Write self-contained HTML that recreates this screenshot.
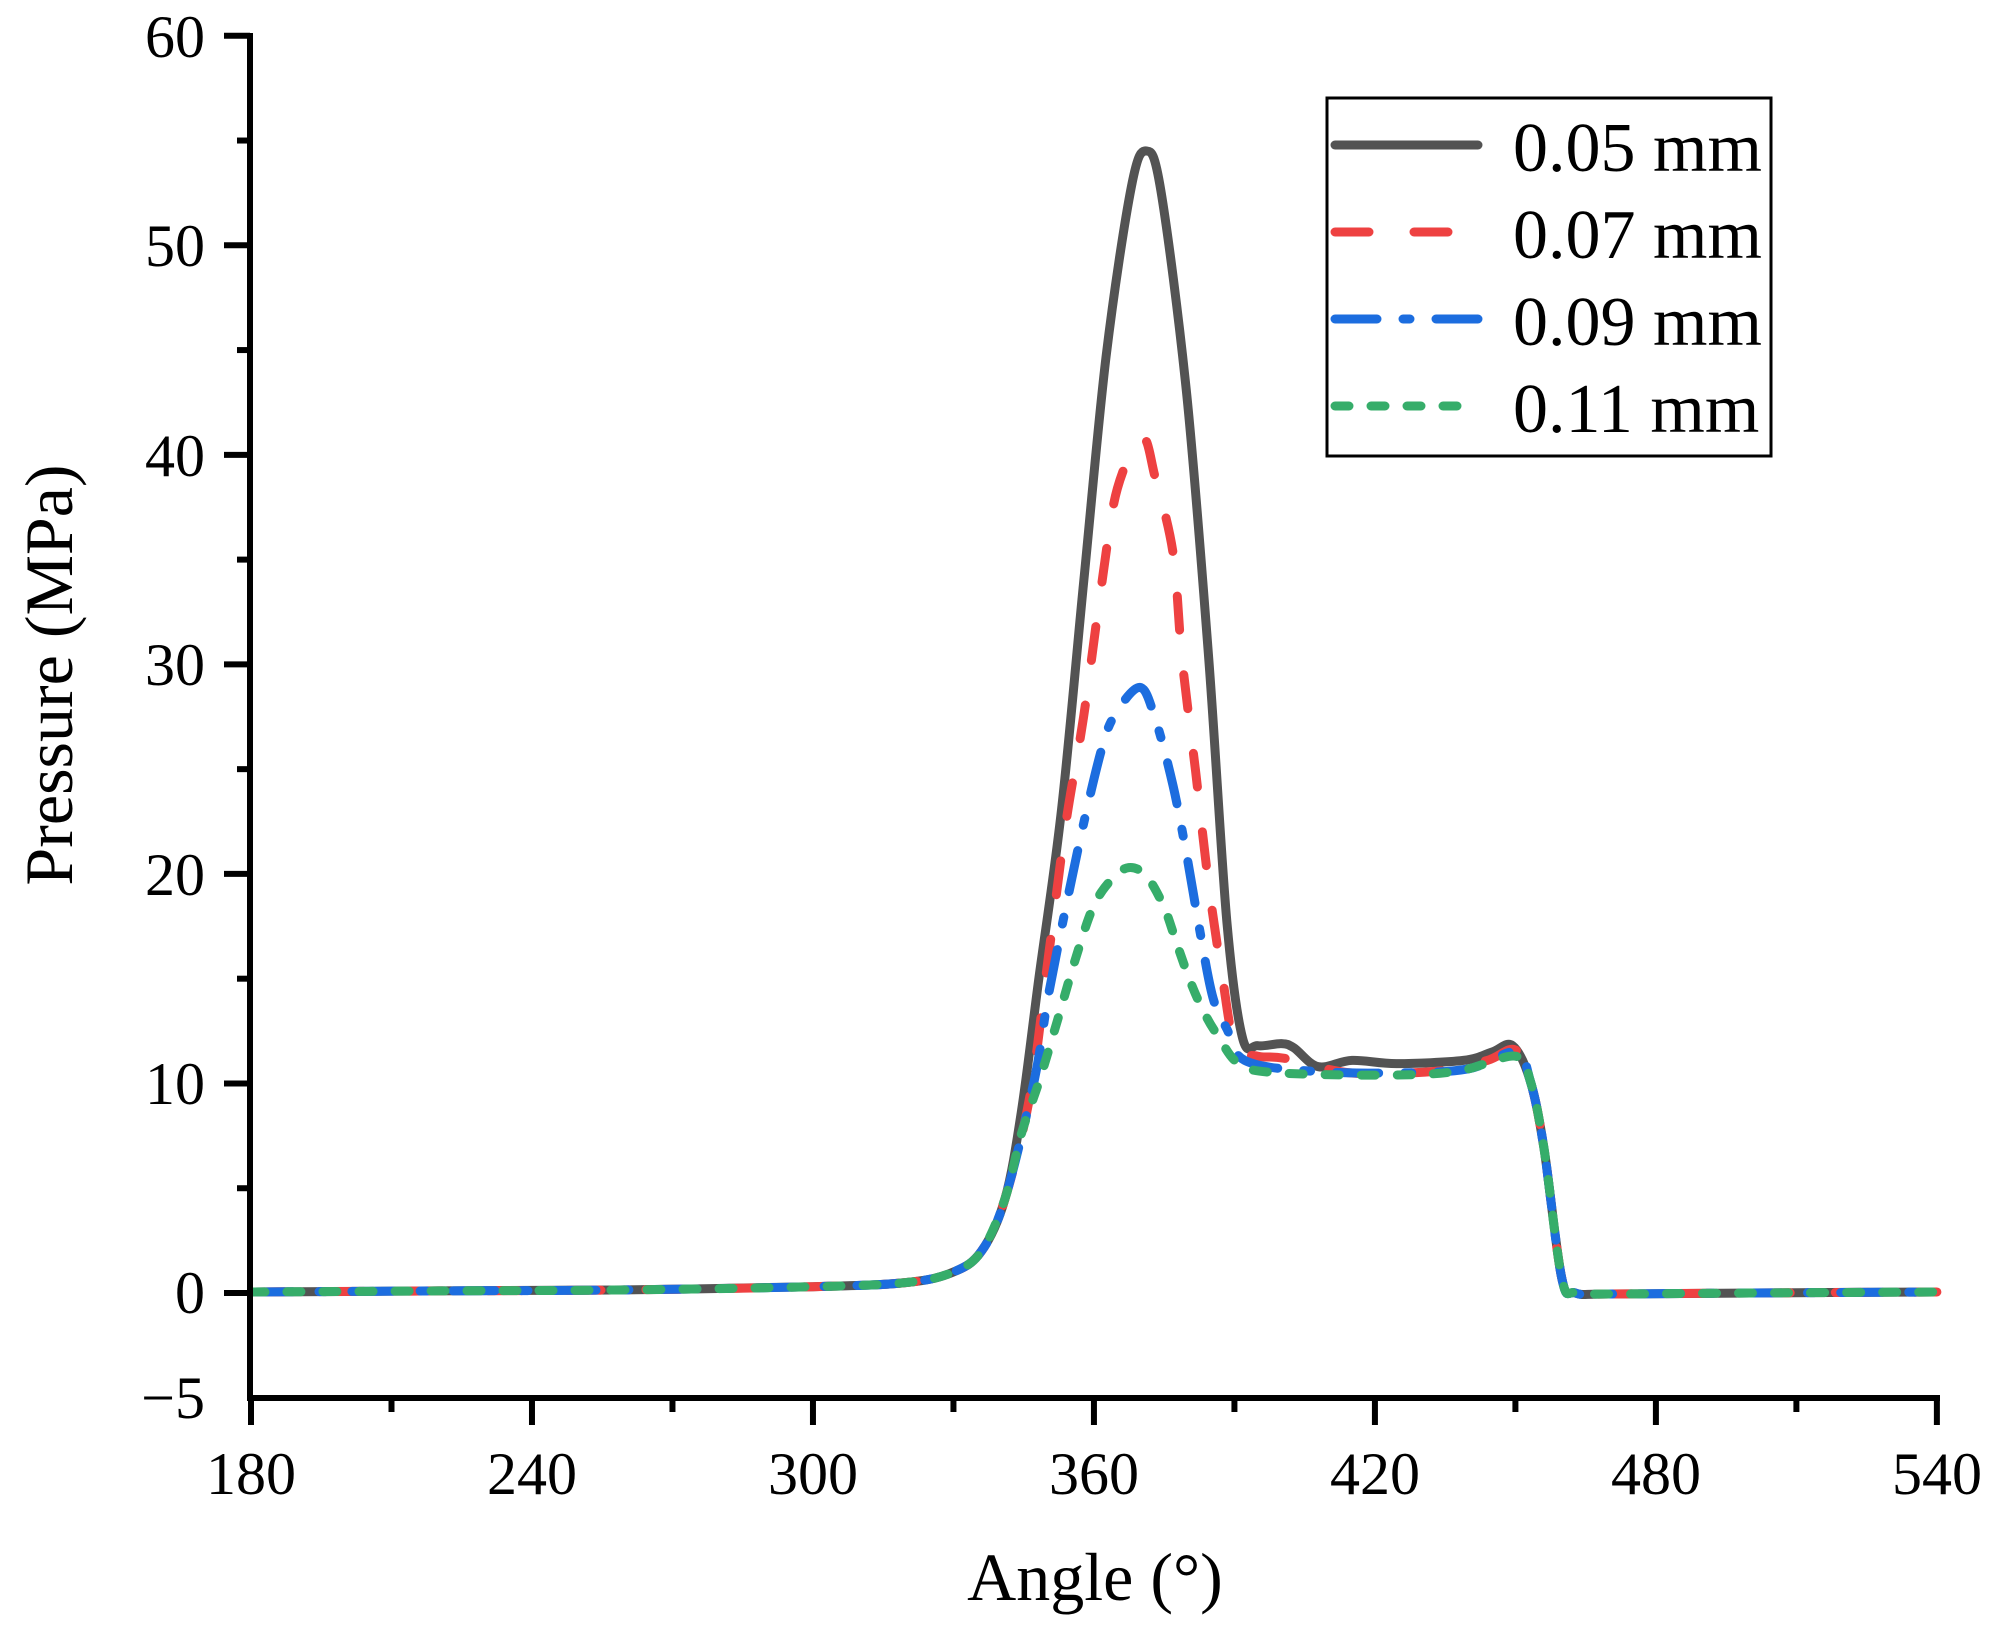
<!DOCTYPE html>
<html><head><meta charset="utf-8"><style>
html,body{margin:0;padding:0;background:#fff;}
svg{display:block;}
text{font-family:"Liberation Serif",serif;fill:#000;}
</style></head><body>
<svg id="s" width="1997" height="1634" viewBox="0 0 1997 1634" xmlns="http://www.w3.org/2000/svg">
<rect width="1997" height="1634" fill="#fff"/>
<g id="curves" fill="none" stroke-linejoin="round"></g>
<g stroke="#000" stroke-width="6" fill="none">
<line x1="250" y1="33" x2="250" y2="1401"/>
<line x1="247" y1="1398" x2="1940" y2="1398"/>
</g>
<g id="ticks" stroke="#000" stroke-width="6"></g>
<g font-size="60" text-anchor="end">
<text x="205" y="1418">−5</text>
<text x="205" y="1313">0</text>
<text x="205" y="1104">10</text>
<text x="205" y="895">20</text>
<text x="205" y="685">30</text>
<text x="205" y="476">40</text>
<text x="205" y="266">50</text>
<text x="205" y="57">60</text>
</g>
<g font-size="60" text-anchor="middle">
<text x="251" y="1494">180</text>
<text x="532" y="1494">240</text>
<text x="813" y="1494">300</text>
<text x="1094" y="1494">360</text>
<text x="1375" y="1494">420</text>
<text x="1656" y="1494">480</text>
<text x="1937" y="1494">540</text>
</g>
<text x="1095" y="1600" font-size="68" text-anchor="middle">Angle (°)</text>
<text transform="translate(72,675) rotate(-90)" font-size="68" text-anchor="middle">Pressure (MPa)</text>
<rect x="1327" y="98" width="444" height="358" fill="#fff" stroke="#000" stroke-width="3"/>
<g stroke-width="9" stroke-linecap="round" fill="none">
<line x1="1335" y1="145" x2="1478" y2="145" stroke="#535353"/>
<line x1="1335" y1="232" x2="1478" y2="232" stroke="#ee4141" stroke-dasharray="34 45"/>
<line x1="1335" y1="319" x2="1478" y2="319" stroke="#1c6ddf" stroke-dasharray="42 26 7 26"/>
<line x1="1335" y1="406" x2="1478" y2="406" stroke="#36ad6a" stroke-dasharray="14 22"/>
</g>
<g font-size="70">
<text x="1513" y="171">0.05 mm</text>
<text x="1513" y="258">0.07 mm</text>
<text x="1513" y="345">0.09 mm</text>
<text x="1513" y="432">0.11 mm</text>
</g>
</svg>
<script>
(function(){
var NS="http://www.w3.org/2000/svg";
function X(d){return 251+4.683*(d-180);}
function Y(v){return 1293-20.954*v;}
var pre=[[180,0.05],[220,0.1],[260,0.15],[300,0.3],[320,0.5],[330,1.0],[336,2.0],[341,4.5]];
var post=[[453.2,10.1],[456.1,6.9],[459.9,0.7],[462.8,0.0],[470,-0.05],[500,0],[540,0.05]];
var black=pre.concat([[344.5,8.66],[348.3,15.1],[353.1,23.1],[357.8,33.9],[362.6,44.7],[368,52.8],[371.2,54.5],[374.3,52.6],[379.8,42.9],[384.5,30.3],[388.4,17.7],[391.7,12.2],[395,11.8],[400,11.9],[402.7,11.7],[407.9,10.8],[415.1,11.1],[424.6,10.95],[438.9,11.1],[445,11.5],[449.4,11.8]]).concat(post);
var red=pre.concat([[346.4,9.5],[350.2,15.9],[354,22.4],[357.8,27.5],[361.7,33.9],[365,38.4],[370.3,40.8],[373.1,38.9],[376.9,35.3],[378.8,30.3],[381.7,24.9],[384.5,19.5],[387.4,15.1],[390.2,11.8],[395,11.3],[400.7,11.2],[415.1,10.5],[434.1,10.6],[444,11.1],[450,11.6]]).concat(post);
var blue=pre.concat([[347.3,10.2],[350.2,14.1],[354,18.4],[357.8,22.4],[361.7,26],[364.5,27.6],[369.8,28.9],[373.1,27.4],[376.9,24.2],[379.8,20.9],[382.6,17.3],[385.4,14.1],[388.4,12.6],[392.2,11.1],[405.6,10.6],[425,10.5],[440,10.7],[450,11.5]]).concat(post);
var green=pre.concat([[344.5,7.6],[348.3,10.1],[352.2,13],[356,15.9],[359.8,18.4],[363.6,19.7],[367.4,20.3],[371.2,19.9],[375,18.4],[377.8,16.6],[380.7,14.8],[383.5,13.4],[386.4,12.3],[391.2,10.9],[400,10.5],[424,10.4],[438,10.6],[450,11.3]]).concat(post);
function path(pts){
 var p=pts.map(function(a){return [X(a[0]),Y(a[1])];});
 var d="M"+p[0][0].toFixed(1)+","+p[0][1].toFixed(1);
 for(var i=0;i<p.length-1;i++){
  var p0=p[i-1]||p[i],p1=p[i],p2=p[i+1],p3=p[i+2]||p2;
  var c1=[p1[0]+(p2[0]-p0[0])/6,p1[1]+(p2[1]-p0[1])/6];
  var c2=[p2[0]-(p3[0]-p1[0])/6,p2[1]-(p3[1]-p1[1])/6];
  d+=" C"+c1[0].toFixed(1)+","+c1[1].toFixed(1)+" "+c2[0].toFixed(1)+","+c2[1].toFixed(1)+" "+p2[0].toFixed(1)+","+p2[1].toFixed(1);
 }
 return d;
}
var g=document.getElementById("curves");
function add(pts,col,dash,w){
 var e=document.createElementNS(NS,"path");
 e.setAttribute("d",path(pts));e.setAttribute("stroke",col);
 e.setAttribute("stroke-width",w);
 if(dash){e.setAttribute("stroke-dasharray",dash);e.setAttribute("stroke-linecap","round");}
 g.appendChild(e);
}
add(black,"#535353",null,9);
add(red,"#ee4141","34 45",9);
add(blue,"#1c6ddf","42 26 7 26",9);
add(green,"#36ad6a","14 22",9);
var t=document.getElementById("ticks");
function ln(x1,y1,x2,y2){var e=document.createElementNS(NS,"line");e.setAttribute("x1",x1);e.setAttribute("y1",y1);e.setAttribute("x2",x2);e.setAttribute("y2",y2);t.appendChild(e);}
for(var v=-5;v<=60;v+=5){var y=Y(v);if(v%10===0)ln(224,y,250,y);else if(v>-5)ln(237,y,250,y);}
for(var d=180;d<=540;d+=30){var x=X(d);if(d%60===0)ln(x,1398,x,1425);else ln(x,1398,x,1412);}
})();
</script>
</body></html>
